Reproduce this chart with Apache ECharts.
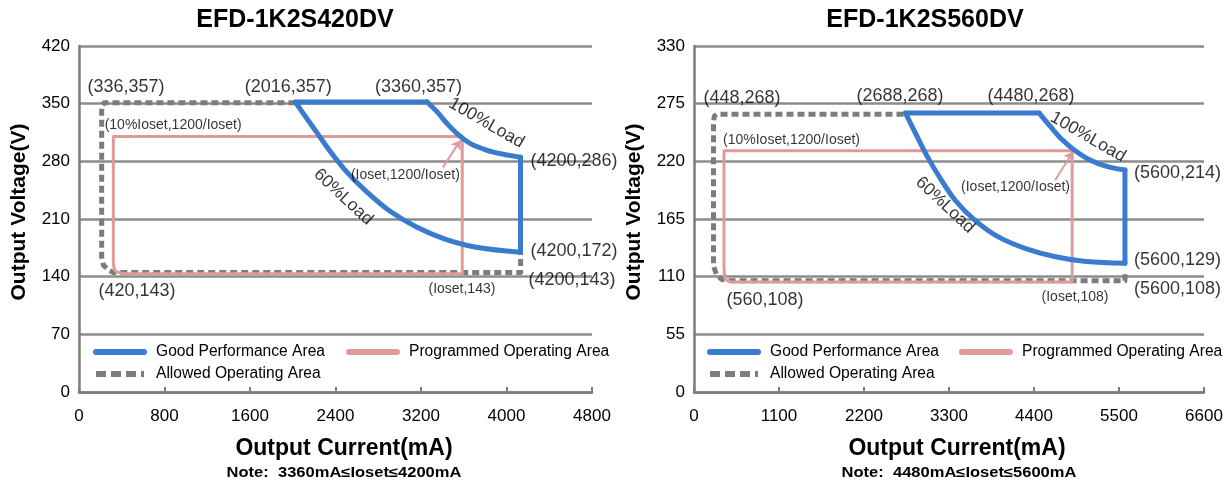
<!DOCTYPE html>
<html><head><meta charset="utf-8">
<script src="https://cdn.jsdelivr.net/npm/echarts@6/dist/echarts.min.js"></script>
<style>html,body{margin:0;padding:0;background:#fff}#c{width:1226px;height:484px}</style>
</head><body><div id="c"></div>
<script>
// ---------- Left chart: EFD-1K2S420DV (x: mA, y: V) ----------
const L_allowed = [[2025,351],[235,351],[216,348],[212,341],[212,164],[228,154],[275,148],[321,145],[4132,145],[4132,169]];
const L_programmed = [[321,310],[321,156],[330,149],[350,146],[400,144],[478,143.5],[3586,143.5],[3586,310],[321,310]];
const L_goodTop = [[2025,352],[3257,352]];
const L_good100 = [[3257,352],[3351,340],[3444,325.9],[3538,313.7],[3663,301.5],[3819,293.4],[3975,288.5],[4131,285]];
const L_goodRight = [[4131,285],[4131,169.7]];
const L_good60 = [[2025,352],[2118,334.5],[2229,314.2],[2341,293.8],[2490,269.4],[2675,245],[2898,220.6],[3158,200.2],[3418,186],[3716,175.8],[4131,169.7]];
const L_arrow = [[3405,272.7],[3569,305.6]];
const L_coordLabels = [[440,370,'(336,357)'],[1958,370,'(2016,357)'],[3176,370,'(3360,357)'],[543,122.6,'(420,143)']];
const L_sideLabels = [[4225,280.4,'(4200,286)'],[4225,171,'(4200,172)'],[4206,136,'(4200,143)']];
const L_smallLabels = [[881,324,'(10%Ioset,1200/Ioset)'],[3054,263.4,'(Ioset,1200/Ioset)'],[3583,125,'(Ioset,143)']];
const L_loadLabels = [[3813,326.5,'100%Load'],[2473,236.7,'60%Load']];
const L_xAxis = {min:0, max:4800, interval:800};
const L_yAxis = {min:0, max:420, interval:70};

// ---------- Right chart: EFD-1K2S560DV ----------
const R_allowed = [[2711,265],[300,265],[262,263],[253,257],[252,250],[252,120],[294,111.6],[358,107.5],[423,106],[5577,106],[5577,115]];
const R_programmed = [[388,230],[388,120],[392,113],[402,108.5],[430,106],[480,105],[4894,105],[4894,230],[388,230]];
const R_goodTop = [[2737,266],[4468,266]];
const R_good100 = [[4468,266],[4611,253.3],[4766,240.5],[4920,230.9],[5125,221.3],[5330,215.5],[5577,211.7]];
const R_goodRight = [[5577,211.7],[5577,122.8]];
const R_good60 = [[2737,266],[2866,246.9],[3020,224.5],[3174,205.3],[3380,182.9],[3636,163.7],[3944,147.7],[4304,136.5],[4663,129.2],[5074,124.4],[5577,122.8]];
const R_arrow = [[4673,202],[4905,229.2]];
const R_coordLabels = [[621,280.4,'(448,268)'],[2666,282.3,'(2688,268)'],[4361,282.3,'(4480,268)'],[919,87.7,'(560,108)']];
const R_sideLabels = [[5694,208.9,'(5600,214)'],[5694,125.9,'(5600,129)'],[5694,98.2,'(5600,108)']];
const R_smallLabels = [[1262,240.3,'(10%Ioset,1200/Ioset)'],[4161,195.5,'(Ioset,1200/Ioset)'],[4931,90.6,'(Ioset,108)']];
const R_loadLabels = [[5099,243.2,'100%Load'],[3248,178.3,'60%Load']];
const R_xAxis = {min:0, max:6600, interval:1100};
const R_yAxis = {min:0, max:330, interval:55};

const titles = ['EFD-1K2S420DV','EFD-1K2S560DV'];
const notes = ['Note:  3360mA\u2264Ioset\u22644200mA','Note:  4480mA\u2264Ioset\u22645600mA'];
const names = {good:'Good Performance Area', prog:'Programmed Operating Area', allowed:'Allowed Operating Area'};

// ---------- styles ----------
const FF = 'Liberation Sans, Arial, sans-serif';
const BLUE = '#3a7bd0', PINK = '#e09a9a', GRAY = '#7c7c7c', GRID = '#8c8c8c';
const loadAngle = {'100%Load': -30, '60%Load': -43};

function line(name, data, g, color, width, smooth, extra) {
  return Object.assign({
    type:'line', name, data, xAxisIndex:g, yAxisIndex:g, symbol:'none', smooth: smooth ? 0.35 : false,
    silent:true, animation:false,
    lineStyle:{color, width, cap:'round', join:'round'}, itemStyle:{color}
  }, extra || {});
}
function chartSeries(g, A, P, top, c100, right, c60, arrow) {
  return [
    line(names.allowed, A, g, GRAY, 5, false, {lineStyle:{color:GRAY, width:5, type:[7,4], cap:'butt', join:'round'}}),
    line(names.prog, P, g, PINK, 3, false),
    line(names.good, top, g, BLUE, 5, false),
    line(names.good, c100, g, BLUE, 5, true),
    line(names.good, right, g, BLUE, 5, false),
    line(names.good, c60, g, BLUE, 5, true),
    {type:'lines', coordinateSystem:'cartesian2d', xAxisIndex:g, yAxisIndex:g, silent:true, animation:false,
     symbol:['none','arrow'], symbolSize:9, lineStyle:{color:PINK, width:2, opacity:1},
     data:[{coords: arrow}]}
  ];
}
function labelSeries(g, coord, side, small, load) {
  const data = [];
  coord.forEach(d => data.push({value:d, label:{fontSize:18, position:'inside'}}));
  side.forEach(d => data.push({value:d, label:{fontSize:18, position:'right', distance:0}}));
  small.forEach(d => data.push({value:d, label:{fontSize:14, position:'inside'}}));
  load.forEach(d => data.push({value:d, label:{fontSize:17.5, position:'inside', rotate: loadAngle[d[2]]}}));
  return {type:'scatter', xAxisIndex:g, yAxisIndex:g, symbolSize:0, silent:true, animation:false, z:10, clip:false,
    data, label:{show:true, color:'#000', fontFamily:FF, formatter: p => p.value[2]}};
}
function xAx(g, a) {
  return {gridIndex:g, type:'value', min:a.min, max:a.max, interval:a.interval,
    axisLine:{show:true, onZero:false, lineStyle:{color:GRAY, width:2.5}},
    axisTick:{show:true, inside:true, length:5, lineStyle:{color:GRAY, width:2}},
    axisLabel:{fontSize:17, color:'#000', margin:16, fontFamily:FF, formatter: v => String(v)},
    splitLine:{show:false}};
}
function yAx(g, a) {
  return {gridIndex:g, type:'value', min:a.min, max:a.max, interval:a.interval,
    axisLine:{show:true, lineStyle:{color:GRAY, width:2.5}},
    axisTick:{show:false},
    axisLabel:{fontSize:17, color:'#000', margin:9, fontFamily:FF, formatter: v => String(v)},
    splitLine:{show:true, lineStyle:{color:GRID, width:2.5}}};
}
const legendBase = {padding:0, itemWidth:48, itemHeight:14, itemGap:21, selectedMode:false,
  itemStyle:{opacity:0},
  textStyle:{fontSize:15.6, color:'#000', fontFamily:FF, padding:[0,0,0,7]}};
const solidLegendLine = {width:6, cap:'round', type:'solid'};
const dashLegendLine = {width:6, cap:'butt', type:[10,5]};
function txt(x, y, text, font, extra) {
  return Object.assign({type:'text', x, y, silent:true,
    style:{text, font, fill:'#000', align:'center', verticalAlign:'middle', textAlign:'center', textVerticalAlign:'middle'}}, extra || {});
}

const chart = echarts.init(document.getElementById('c'), null, {renderer:'canvas'});
chart.setOption({
  animation:false,
  backgroundColor:'#fff',
  grid:[{left:79, top:46, width:513, height:346}, {left:694, top:46, width:510, height:346}],
  xAxis:[xAx(0, L_xAxis), xAx(1, R_xAxis)],
  yAxis:[yAx(0, L_yAxis), yAx(1, R_yAxis)],
  legend:[
    Object.assign({}, legendBase, {left:93, top:344, data:[names.good, names.prog], lineStyle:solidLegendLine}),
    Object.assign({}, legendBase, {left:93, top:366, data:[names.allowed], lineStyle:dashLegendLine}),
    Object.assign({}, legendBase, {left:707, top:344, itemGap:20, data:[names.good, names.prog], lineStyle:solidLegendLine}),
    Object.assign({}, legendBase, {left:707, top:366, data:[names.allowed], lineStyle:dashLegendLine})
  ],
  series:[].concat(
    chartSeries(0, L_allowed, L_programmed, L_goodTop, L_good100, L_goodRight, L_good60, L_arrow),
    chartSeries(1, R_allowed, R_programmed, R_goodTop, R_good100, R_goodRight, R_good60, R_arrow),
    [labelSeries(0, L_coordLabels, L_sideLabels, L_smallLabels, L_loadLabels),
     labelSeries(1, R_coordLabels, R_sideLabels, R_smallLabels, R_loadLabels)]
  ),
  graphic:[
    txt(295, 20, titles[0], 'bold 25px ' + FF),
    txt(925, 20, titles[1], 'bold 25px ' + FF),
    txt(19, 212, 'Output Voltage(V)', 'bold 21px ' + FF, {rotation:Math.PI/2}),
    txt(634, 212, 'Output Voltage(V)', 'bold 21px ' + FF, {rotation:Math.PI/2}),
    txt(344, 449, 'Output Current(mA)', 'bold 23px ' + FF),
    txt(957, 449, 'Output Current(mA)', 'bold 23px ' + FF),
    txt(344, 473, notes[0], 'bold 14px ' + FF, {scaleX:1.18}),
    txt(959, 473, notes[1], 'bold 14px ' + FF, {scaleX:1.18})
  ]
});
</script></body></html>
